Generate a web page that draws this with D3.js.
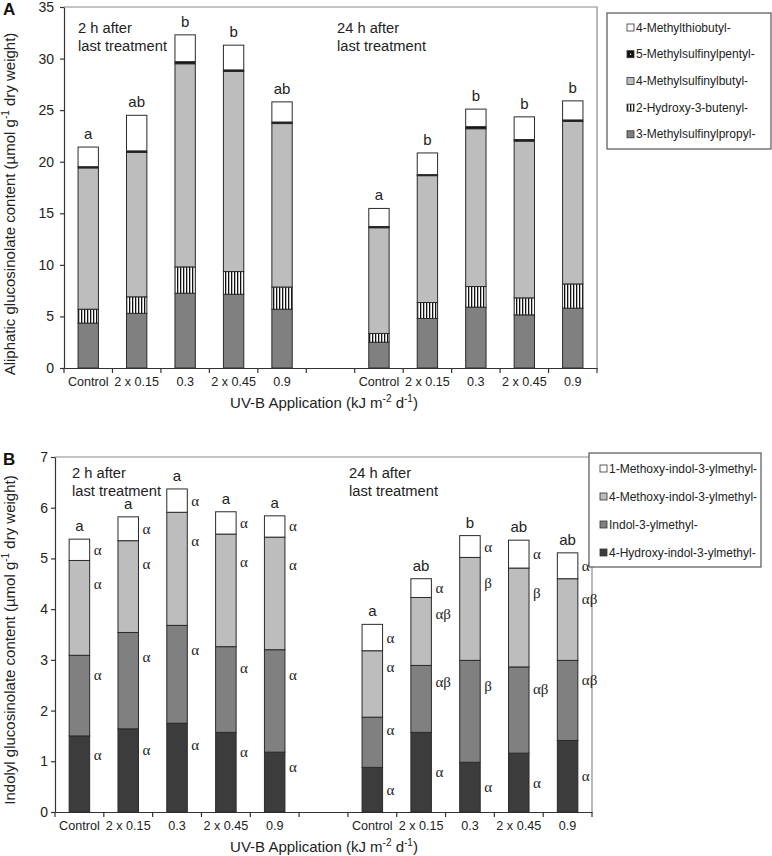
<!DOCTYPE html>
<html><head><meta charset="utf-8">
<script src="https://cdn.jsdelivr.net/npm/d3@7"></script>
<style>
body{margin:0;background:#fff;}
svg{display:block;font-family:Arial,"Liberation Sans",Helvetica,sans-serif;}
</style></head>
<body>
<svg id="chart" width="772" height="856"></svg>
<script>
// ---------- data ----------
const categories = ["Control","2 x 0.15","0.3","2 x 0.45","0.9","","Control","2 x 0.15","0.3","2 x 0.45","0.9"];
const barSlots = [0,1,2,3,4,6,7,8,9,10];

// Panel A — aliphatic glucosinolates (2 h group, then 24 h group)
const aliSeriesNames = ["3-Methylsulfinylpropyl-","2-Hydroxy-3-butenyl-","4-Methylsulfinylbutyl-","5-Methylsulfinylpentyl-","4-Methylthiobutyl-"];
const msp3 = [4.35,5.3,7.25,7.15,5.7, 2.5,4.8,5.9,5.15,5.8];
const h3b2 = [1.35,1.6,2.55,2.2,2.15, 0.85,1.55,2.0,1.65,2.35];
const msb4 = [13.7,14.0,19.7,19.4,15.85, 10.25,12.3,15.3,15.2,15.75];
const msp5 = [0.12,0.15,0.2,0.15,0.15, 0.12,0.1,0.2,0.15,0.15];
const mtb4 = [1.9,3.45,2.6,2.4,1.95, 1.75,2.1,1.7,2.2,1.85];
const lettersA = ["a","ab","b","b","ab","a","b","b","b","b"];
const ticksA = [0,5,10,15,20,25,30,35];

// Panel B — indolyl glucosinolates
const indSeriesNames = ["4-Hydroxy-indol-3-ylmethyl-","Indol-3-ylmethyl-","4-Methoxy-indol-3-ylmethyl-","1-Methoxy-indol-3-ylmethyl-"];
const hi4 = [1.50,1.64,1.75,1.57,1.18, 0.88,1.57,0.98,1.16,1.41];
const i3m = [1.59,1.90,1.93,1.69,2.02, 0.99,1.32,2.01,1.70,1.58];
const mi4 = [1.87,1.81,2.23,2.22,2.22, 1.31,1.34,2.03,1.95,1.61];
const mi1 = [0.42,0.47,0.46,0.44,0.42, 0.52,0.37,0.43,0.55,0.51];
const lettersB = ["a","a","a","a","a","a","ab","b","ab","ab"];
const greekHI  = ["α","α","α","α","α","α","α","α","α","α"];
const greekI3M = ["α","α","α","α","α","α","αβ","β","αβ","αβ"];
const greekMI4 = ["α","α","α","α","α","α","αβ","β","β","αβ"];
const greekMI1 = ["α","α","α","α","α","α","α","α","α","α"];
const ticksB = [0,1,2,3,4,5,6,7];

const groupNotes = [["2 h after","last treatment"],["24 h after","last treatment"]];

// ---------- drawing ----------
const svg = d3.select("#chart");
const defs = svg.append("defs");
const pat = defs.append("pattern").attr("id","vstripe").attr("patternUnits","userSpaceOnUse")
  .attr("width",3).attr("height",4);
pat.append("rect").attr("width",3).attr("height",4).attr("fill","#fff");
pat.append("rect").attr("x",0).attr("width",1.3).attr("height",4).attr("fill","#111");

const AX = "#333", FRAME = "#8a8a8a";

function drawPanel(cfg){
  const g = svg.append("g");
  const x = d3.scaleBand().domain(d3.range(categories.length)).range([cfg.x0,cfg.x1]).paddingInner(0).paddingOuter(0);
  const y = d3.scaleLinear().domain([0,cfg.ymax]).range([cfg.y0,cfg.y1]);
  // frame (top, right)
  g.append("path").attr("d",`M${cfg.x0},${cfg.y1}H${cfg.x1}V${cfg.y0}`).attr("fill","none").attr("stroke",FRAME).attr("stroke-width",1.2);
  // y axis
  const ya = g.append("g").attr("transform",`translate(${cfg.x0},0)`)
    .call(d3.axisLeft(y).tickValues(cfg.ticks).tickFormat(d3.format("d")).tickSize(4).tickSizeOuter(0).tickPadding(cfg.ypad));
  ya.selectAll("path,line").attr("stroke",AX).attr("stroke-width",1.2);
  ya.selectAll("text").attr("font-size",14).attr("fill","#222").attr("font-family","Arial, 'Liberation Sans', sans-serif");
  // x axis with labels
  const xa = g.append("g").attr("transform",`translate(0,${cfg.y0})`)
    .call(d3.axisBottom(x).tickSize(0).tickPadding(9).tickFormat(i=>categories[i]));
  xa.select("path").attr("stroke",AX).attr("stroke-width",1.2);
  xa.selectAll("text").attr("font-size",12.6).attr("fill","#222").attr("font-family","Arial, 'Liberation Sans', sans-serif");
  // boundary ticks
  g.selectAll(".bt").data(d3.range(categories.length+1)).enter().append("line")
    .attr("x1",i=>x.range()[0]+i*x.step()).attr("x2",i=>x.range()[0]+i*x.step())
    .attr("y1",cfg.y0).attr("y2",cfg.y0+5).attr("stroke",AX).attr("stroke-width",1.2);

  const bw = x.bandwidth()*cfg.barFrac;
  const stackData = barSlots.map((slot,j)=>{
    let acc=0; const segs=[];
    cfg.series.forEach((s,k)=>{ segs.push({k, lo:acc, hi:acc+s.values[j], j}); acc+=s.values[j]; });
    return {slot, j, segs, total:acc};
  });
  const bars = g.selectAll(".bar").data(stackData).enter().append("g");
  bars.each(function(d){
    const bx = x(d.slot)+(x.bandwidth()-bw)/2;
    const bg = d3.select(this);
    d.segs.forEach(sg=>{
      const s = cfg.series[sg.k];
      bg.append("rect").attr("x",bx).attr("width",bw)
        .attr("y",y(sg.hi)).attr("height",Math.max(0.5,y(sg.lo)-y(sg.hi)))
        .attr("fill",s.fill).attr("stroke","#2a2a2a").attr("stroke-width",1);
      if(s.greek){
        const isTop = sg.k===cfg.series.length-1;
        let frac = isTop?0.5:0.75;
        if(sg.k===0 && d.slot>5) frac = 0.5;
        bg.append("text").attr("x",bx+bw+4).attr("y",y(sg.lo+(sg.hi-sg.lo)*frac))
          .attr("dominant-baseline","central").attr("font-family","'Liberation Serif','Times New Roman',serif")
          .attr("font-size",15).attr("fill","#222").text(s.greek[d.j]);
      }
    });
    bg.append("text").attr("x",bx+bw/2).attr("y",y(d.total)-8).attr("text-anchor","middle")
      .attr("font-size",15).attr("fill","#222").text(cfg.letters[d.j]);
  });
  // group notes
  cfg.notes.forEach((n,i)=>{
    const t = g.append("text").attr("x",cfg.noteX[i]).attr("y",cfg.noteY).attr("font-size",14.7).attr("fill","#222");
    t.append("tspan").attr("x",cfg.noteX[i]).text(n[0]);
    t.append("tspan").attr("x",cfg.noteX[i]).attr("dy",18).text(n[1]);
  });
  // axis titles
  const yt = g.append("text").attr("transform",`translate(15,${cfg.ytitleY}) rotate(-90)`).attr("text-anchor","middle")
    .attr("font-size",15).attr("fill","#222");
  yt.append("tspan").text(cfg.ytitle+" (µmol g");
  yt.append("tspan").attr("font-size",10).attr("dy",-6).text("-1");
  yt.append("tspan").attr("dy",6).text(" dry weight)");
  const xt = g.append("text").attr("x",cfg.xtitleX).attr("y",cfg.xtitleY).attr("text-anchor","middle").attr("font-size",15).attr("fill","#222");
  xt.append("tspan").text("UV-B Application (kJ m");
  xt.append("tspan").attr("font-size",10).attr("dy",-6).text("-2");
  xt.append("tspan").attr("dy",6).text(" d");
  xt.append("tspan").attr("font-size",10).attr("dy",-6).text("-1");
  xt.append("tspan").attr("dy",6).text(")");
  // panel letter
  g.append("text").attr("x",3).attr("y",cfg.letterY).attr("font-size",17).attr("font-weight","bold").attr("fill","#111").text(cfg.panel);
  // legend
  const L = cfg.legend;
  const lg = g.append("g");
  lg.append("rect").attr("x",L.x).attr("y",L.y).attr("width",L.w).attr("height",L.h).attr("fill","#fff").attr("stroke","#555").attr("stroke-width",1.2);
  L.items.forEach((it,i)=>{
    const cy = L.y+L.first+i*L.step;
    lg.append("rect").attr("x",L.sx).attr("y",cy-3.5).attr("width",7).attr("height",7)
      .attr("fill",it.fill).attr("stroke","#333").attr("stroke-width",0.8);
    if(it.dot) lg.append("rect").attr("x",L.sx+3).attr("y",cy-0.5).attr("width",1.2).attr("height",1.2).attr("fill","#fff");
    lg.append("text").attr("x",L.tx).attr("y",cy).attr("dominant-baseline","central").attr("font-size",12).attr("fill","#222").text(it.name);
  });
}

const aliSeries = [
  {values:msp3, fill:"#808080"},
  {values:h3b2, fill:"url(#vstripe)"},
  {values:msb4, fill:"#bdbdbd"},
  {values:msp5, fill:"#111"},
  {values:mtb4, fill:"#fff"}
];
drawPanel({
  panel:"A", letterY:15, x0:64, x1:597, y0:368, y1:7, ymax:35, ticks:ticksA, ypad:6, barFrac:0.42,
  series:aliSeries, letters:lettersA, notes:groupNotes, noteX:[78,337], noteY:33,
  ytitle:"Aliphatic glucosinolate content", ytitleY:204, xtitleX:324, xtitleY:408,
  legend:{x:607,y:13,w:164,h:136,first:14.5,step:26.7,sx:627,tx:636,
    items:[{name:aliSeriesNames[4],fill:"#fff"},{name:aliSeriesNames[3],fill:"#111",dot:true},{name:aliSeriesNames[2],fill:"#bdbdbd"},{name:aliSeriesNames[1],fill:"url(#vstripe)"},{name:aliSeriesNames[0],fill:"#808080"}]}
});

const indSeries = [
  {values:hi4, fill:"#3c3c3c", greek:greekHI},
  {values:i3m, fill:"#808080", greek:greekI3M},
  {values:mi4, fill:"#bdbdbd", greek:greekMI4},
  {values:mi1, fill:"#fff", greek:greekMI1}
];
drawPanel({
  panel:"B", letterY:465, x0:55, x1:592, y0:812, y1:457, ymax:7, ticks:ticksB, ypad:3, barFrac:0.42,
  series:indSeries, letters:lettersB, notes:groupNotes, noteX:[72,349], noteY:478,
  ytitle:"Indolyl glucosinolate content", ytitleY:640, xtitleX:324, xtitleY:852,
  legend:{x:589,y:453,w:172,h:114,first:15.5,step:28,sx:600,tx:609,
    items:[{name:indSeriesNames[3],fill:"#fff"},{name:indSeriesNames[2],fill:"#bdbdbd"},{name:indSeriesNames[1],fill:"#808080"},{name:indSeriesNames[0],fill:"#3c3c3c"}]}
});
</script>
</body></html>
